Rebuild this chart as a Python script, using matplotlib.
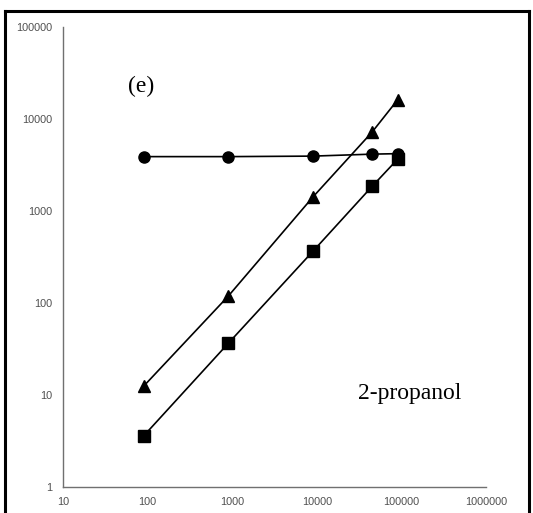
import matplotlib
matplotlib.use("Agg")
import matplotlib.pyplot as plt
from matplotlib.lines import Line2D

# Data
x_vals = [90, 900, 9000, 45000, 90000]
circles = [3900, 3900, 3950, 4150, 4200]
triangles = [12.5, 119, 1420, 7200, 16100]
squares = [3.6, 36.5, 365, 1850, 3650]
x_ticks = [10, 100, 1000, 10000, 100000, 1000000]
x_ticklabels = ["10", "100", "1000", "10000", "100000", "1000000"]
y_ticks = [1, 10, 100, 1000, 10000, 100000]
y_ticklabels = ["1", "10", "100", "1000", "10000", "100000"]

W, H = 533, 513
fig = plt.figure(figsize=(W / 100, H / 100), dpi=100)
ax = fig.add_axes([63 / W, 1 - 487 / H, (486 - 63) / W, (487 - 27) / H])

ax.set_xscale("log")
ax.set_yscale("log")
ax.set_xlim(10, 1000000)
ax.set_ylim(1, 100000)

ax.plot(x_vals, circles, color="black", lw=1.2, marker="o", ms=8)
ax.plot(x_vals, triangles, color="black", lw=1.2, marker="^", ms=8)
ax.plot(x_vals, squares, color="black", lw=1.2, marker="s", ms=8)

ax.set_xticks(x_ticks)
ax.set_xticklabels(x_ticklabels)
ax.set_yticks(y_ticks)
ax.set_yticklabels(y_ticklabels)
ax.minorticks_off()
ax.tick_params(axis="both", length=0, labelsize=7.8, labelcolor="#505050")
ax.tick_params(axis="x", pad=7)
ax.tick_params(axis="y", pad=8)
for lbl in ax.get_xticklabels() + ax.get_yticklabels():
    lbl.set_family(["Liberation Sans", "DejaVu Sans"])

for s in ["top", "right"]:
    ax.spines[s].set_visible(False)
for s in ["left", "bottom"]:
    ax.spines[s].set_color("#707070")
    ax.spines[s].set_linewidth(1.0)

fig.text(128 / W, 1 - 86 / H, "(e)", fontsize=17, family=["Liberation Serif", "DejaVu Serif"],
         va="center", ha="left")
fig.text(358 / W, 1 - 394 / H, "2-propanol", fontsize=17, family=["Liberation Serif", "DejaVu Serif"],
         va="center", ha="left")

# outer frame (bottom edge runs off the image)
lw = 2.2
fx0, fx1, fy0, fy1 = 5 / W, 529 / W, 0.0, 1 - 11 / H
for xs, ys in [([fx0, fx1], [fy1, fy1]), ([fx0, fx0], [fy0, fy1]),
               ([fx1, fx1], [fy0, fy1])]:
    fig.add_artist(Line2D(xs, ys, color="black", lw=lw, transform=fig.transFigure))

fig.savefig("out.png", dpi=100)
